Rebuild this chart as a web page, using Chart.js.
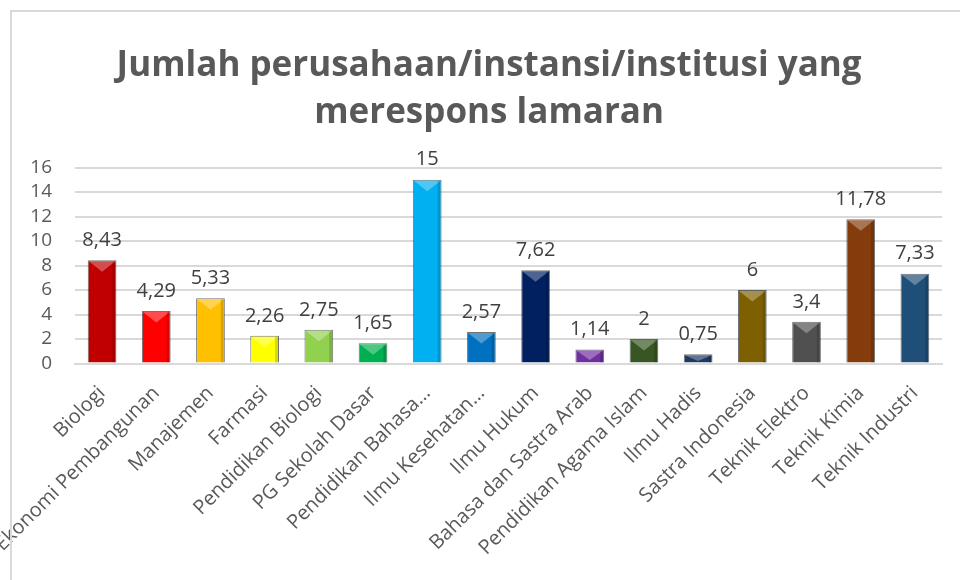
<!DOCTYPE html>
<html lang="id">
<head>
    <meta charset="UTF-8">
    <title>Jumlah perusahaan</title>
    <script src="https://cdn.jsdelivr.net/npm/chart.js"></script>
    <style>
        body { margin: 0; background: #fff; }
        #wrap { position: relative; width: 960px; height: 580px; overflow: hidden; }
        #frame { position: absolute; left: 10px; top: 10px; width: 980px; height: 600px; border: 2px solid #d9d9d9; pointer-events: none; }
    </style>
</head>
<body>
    <div id="wrap">
        <canvas id="myChart" width="960" height="580"></canvas>
        <div id="frame"></div>
    </div>

<script>
    // data
    const prodi = ['Biologi', 'Ekonomi Pembangunan', 'Manajemen', 'Farmasi', 'Pendidikan Biologi',
        'PG Sekolah Dasar', 'Pendidikan Bahasa…', 'Ilmu Kesehatan…', 'Ilmu Hukum', 'Bahasa dan Sastra Arab',
        'Pendidikan Agama Islam', 'Ilmu Hadis', 'Sastra Indonesia', 'Teknik Elektro', 'Teknik Kimia', 'Teknik Industri'];
    const jumlah = [8.43, 4.29, 5.33, 2.26, 2.75, 1.65, 15, 2.57, 7.62, 1.14, 2, 0.75, 6, 3.4, 11.78, 7.33];
    const warna = ['#c00000', '#ff0000', '#ffc000', '#ffff00', '#92d050', '#00b050', '#00b0f0', '#0070c0',
        '#002060', '#7030a0', '#375623', '#203864', '#7f6000', '#505050', '#843c0c', '#1f4e79'];
    const judul = ['Jumlah perusahaan/instansi/institusi yang', 'merespons lamaran'];

    const ctx = document.getElementById('myChart');

    // label nilai di atas batang (pakai koma desimal)
    const labelNilai = {
        id: 'labelNilai',
        afterDatasetsDraw(chart) {
            const c = chart.ctx;
            const meta = chart.getDatasetMeta(0);
            c.save();
            c.font = '20px "Open Sans"';
            c.fillStyle = '#404040';
            c.textAlign = 'center';
            c.textBaseline = 'bottom';
            meta.data.forEach((bar, i) => {
                const v = String(jumlah[i]).replace('.', ',');
                c.fillText(v, bar.x, bar.y - 10);
            });
            c.restore();
        }
    };

    // efek bevel sederhana di atas batang
    const bevel = {
        id: 'bevel',
        afterDatasetsDraw(chart) {
            const c = chart.ctx;
            const meta = chart.getDatasetMeta(0);
            c.save();
            meta.data.forEach((bar) => {
                const w = bar.width;
                const left = bar.x - w / 2;
                const d = Math.min(w / 2, bar.base - bar.y) * 0.8;
                c.fillStyle = 'rgba(255,255,255,0.3)';
                c.beginPath();
                c.moveTo(left + 1, bar.y + 1);
                c.lineTo(left + w - 1, bar.y + 1);
                c.lineTo(bar.x, bar.y + d);
                c.closePath();
                c.fill();
                c.fillStyle = 'rgba(0,0,0,0.15)';
                c.fillRect(left + w - 4, bar.y + 1, 3, bar.base - bar.y - 1);
            });
            c.restore();
        }
    };

    new Chart(ctx, {
        type: 'bar',
        data: {
            labels: prodi,
            datasets: [{
                data: jumlah,
                backgroundColor: warna,
                borderColor: 'rgba(0,0,0,0.55)',
                borderWidth: 1,
                barPercentage: 0.53,
                categoryPercentage: 1
            }]
        },
        options: {
            responsive: false,
            animation: false,
            layout: { padding: { left: 18, right: 18, top: 32, bottom: 10 } },
            plugins: {
                legend: { display: false },
                tooltip: { enabled: false },
                title: {
                    display: true,
                    // dua spasi di depan supaya judul sedikit ke kanan
                    text: judul.map(t => '  ' + t),
                    color: '#595959',
                    font: { family: 'Open Sans', size: 35, weight: 'bold', lineHeight: 1.35 },
                    padding: { top: 10, bottom: 31 }
                }
            },
            scales: {
                x: {
                    grid: { display: false },
                    border: { color: '#d9d9d9', width: 2 },
                    ticks: {
                        color: '#595959',
                        font: { family: 'Open Sans', size: 20 },
                        minRotation: 45,
                        maxRotation: 45,
                        autoSkip: false,
                        padding: 10
                    },
                    afterFit: (s) => { s.paddingLeft = 0; }
                },
                y: {
                    min: 0,
                    max: 16,
                    ticks: {
                        stepSize: 2,
                        autoSkip: false,
                        color: '#595959',
                        font: { family: 'Open Sans', size: 19, lineHeight: 1 },
                        padding: 23
                    },
                    grid: { color: '#d9d9d9', lineWidth: 2, drawTicks: false },
                    border: { display: false },
                    afterFit: (s) => { s.width = 57; }
                }
            }
        },
        plugins: [bevel, labelNilai]
    });
</script>
</body>
</html>
